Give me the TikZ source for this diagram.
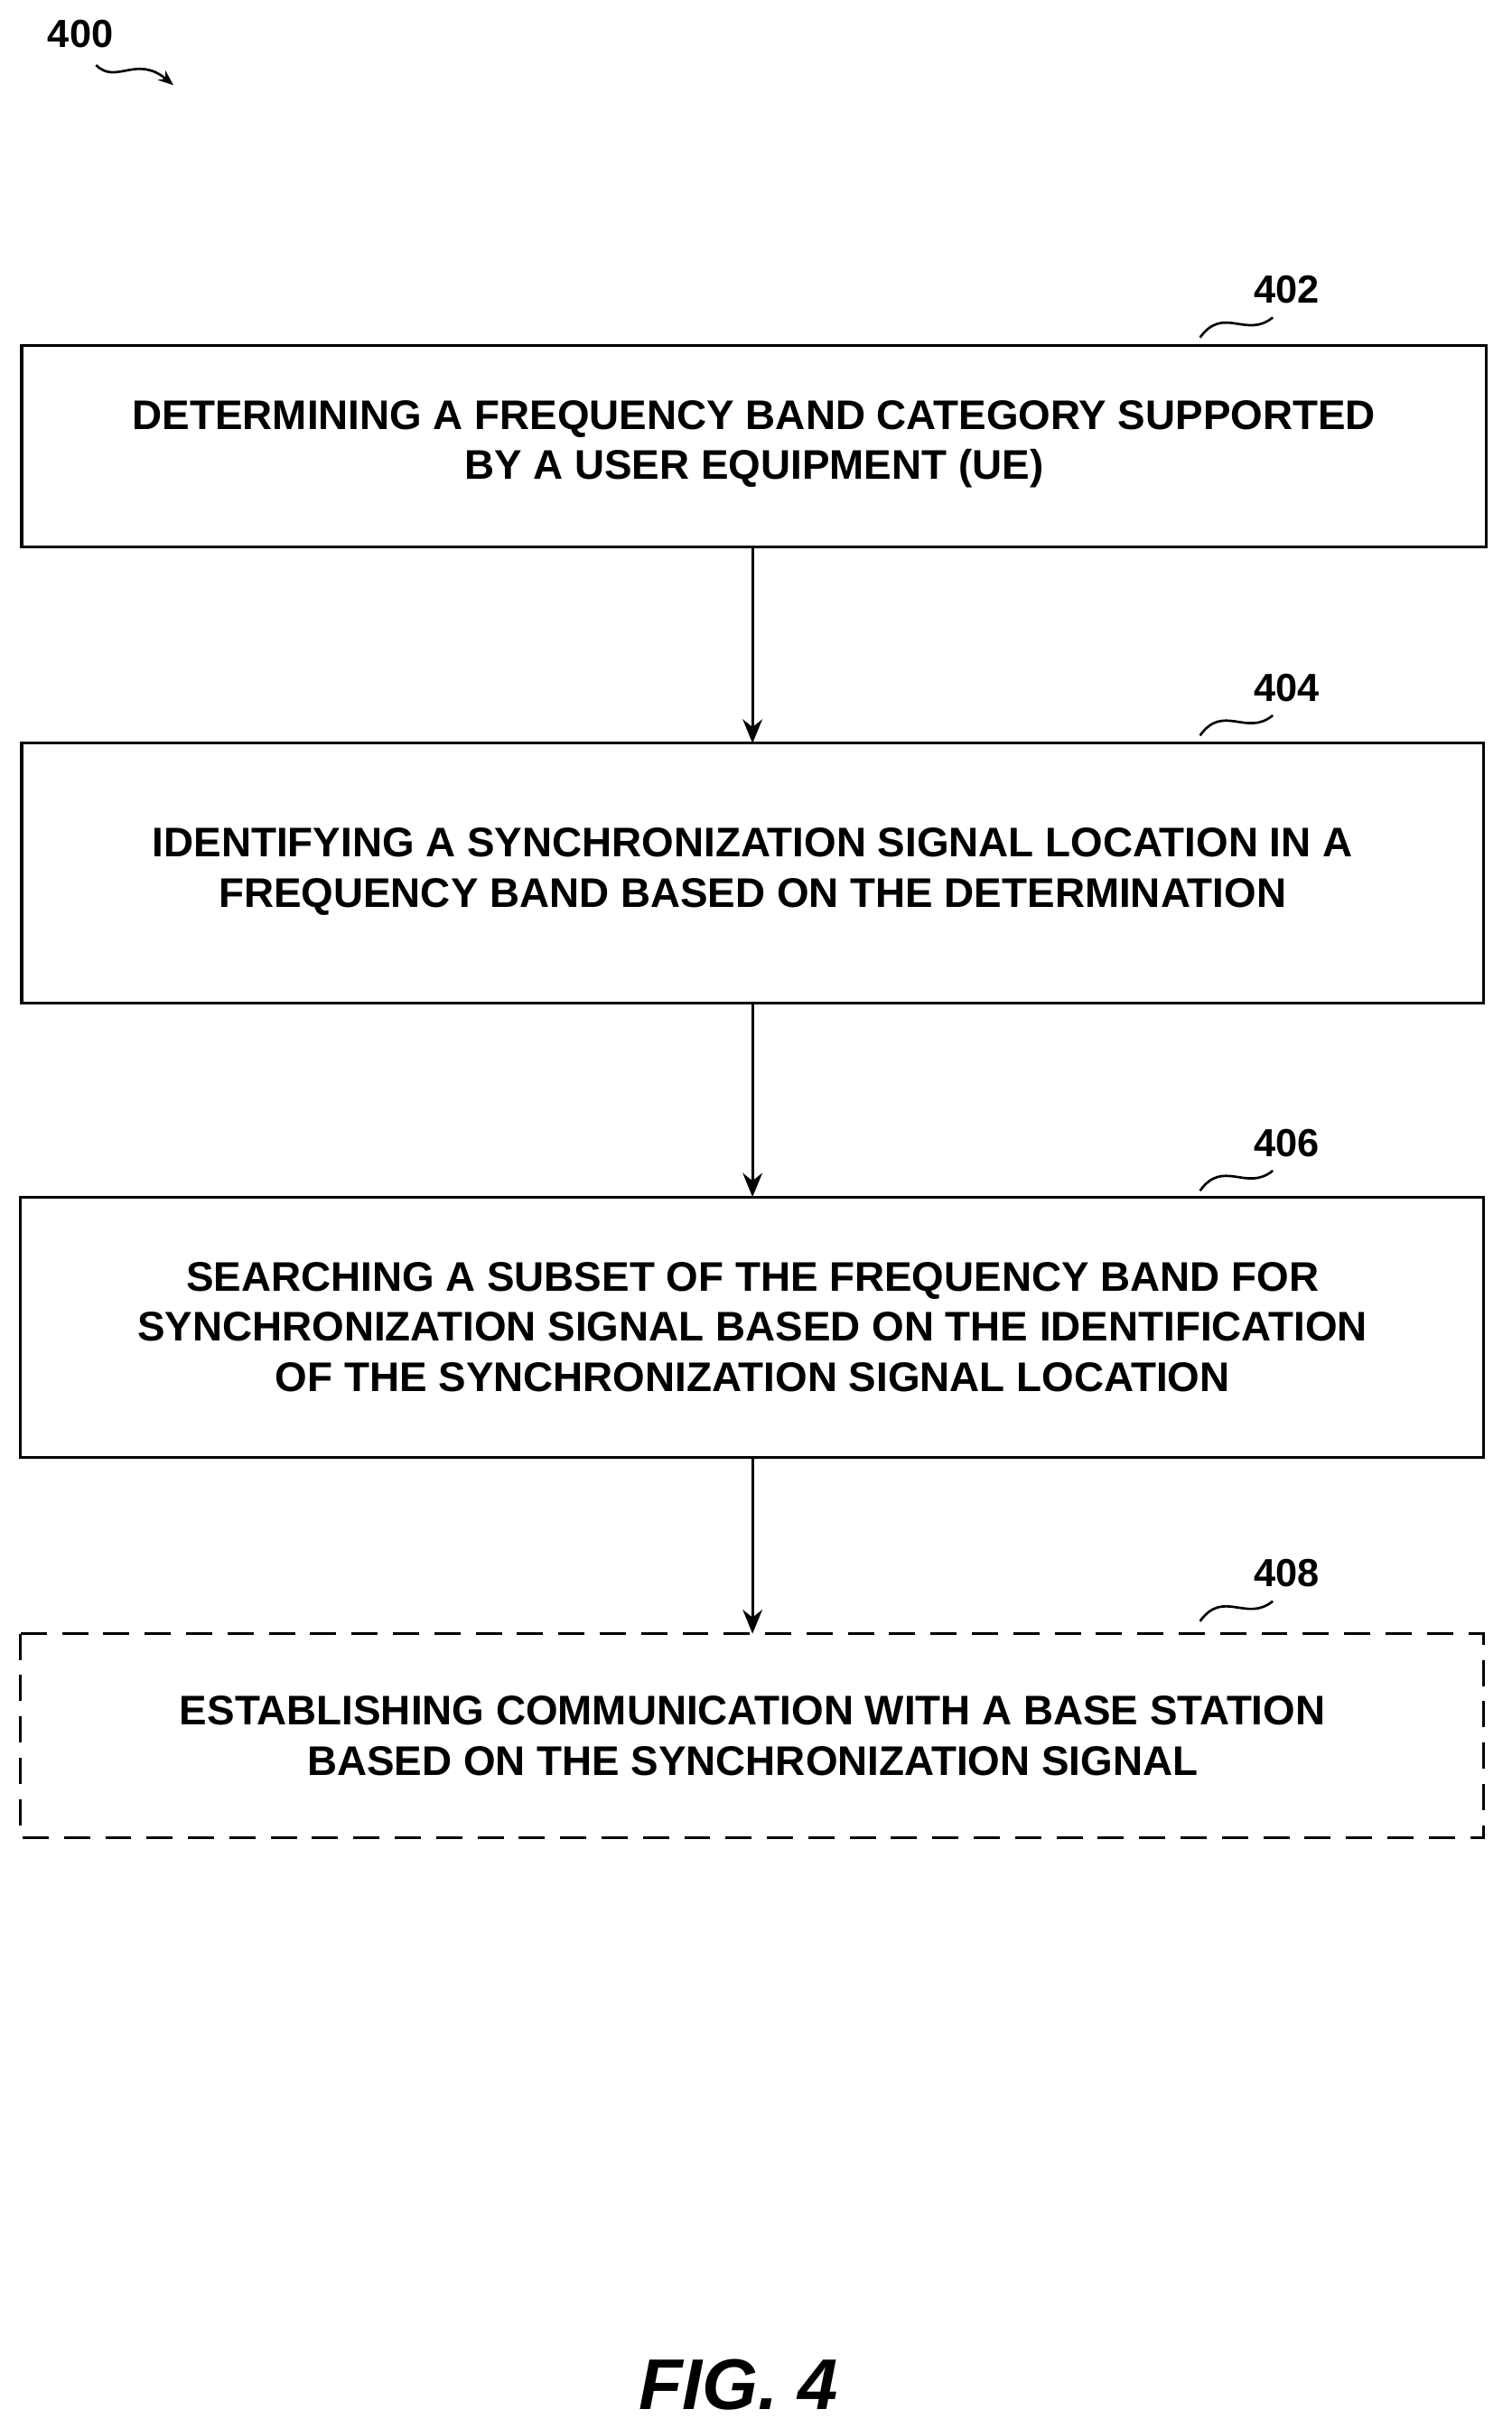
\documentclass[tikz,border=0pt]{standalone}
\usepackage{fontspec}
\setmainfont{Liberation Sans}
\usetikzlibrary{arrows.meta}
\begin{document}
\begin{tikzpicture}[x=0.05cm,y=-0.05cm,
  stepbox/.style={draw,line width=2.6pt,minimum width=0pt,anchor=north west},
  txt/.style={font=\bfseries\fontsize{38}{46}\selectfont,align=center},
  lbl/.style={font=\bfseries\fontsize{36}{40}\selectfont},
  arr/.style={line width=2.6pt,-{Stealth[length=22pt,width=18pt]}},
  sq/.style={line width=2.2pt}]
\useasboundingbox (0,0) rectangle (976,1568);
\draw[stepbox] (14,223) rectangle (960,353);
\draw[stepbox] (14,480) rectangle (958,648);
\draw[stepbox] (13,773) rectangle (958,941);
\draw[stepbox,dashed,dash pattern=on 24pt off 14pt] (13,1055) rectangle (958,1187);
\node[txt] (t1) at (487,287) {DETERMINING A FREQUENCY BAND CATEGORY SUPPORTED\\BY A USER EQUIPMENT (UE)};
\node[txt] (t2) at (486,563) {IDENTIFYING A SYNCHRONIZATION SIGNAL LOCATION IN A\\FREQUENCY BAND BASED ON THE DETERMINATION};
\node[txt] (t3) at (486,857) {SEARCHING A SUBSET OF THE FREQUENCY BAND FOR\\SYNCHRONIZATION SIGNAL BASED ON THE IDENTIFICATION\\OF THE SYNCHRONIZATION SIGNAL LOCATION};
\node[txt] (t4) at (486,1121) {ESTABLISHING COMMUNICATION WITH A BASE STATION\\BASED ON THE SYNCHRONIZATION SIGNAL};
\coordinate (a1) at (486,353); \coordinate (b1) at (486,480);
\coordinate (a2) at (486,648); \coordinate (b2) at (486,773);
\coordinate (a3) at (486,941); \coordinate (b3) at (486,1055);
\draw[arr] (a1) -- (b1);
\draw[arr] (a2) -- (b2);
\draw[arr] (a3) -- (b3);
\foreach \n/\y in {402/187,404/444,406/738,408/1016}{
  \node[lbl] (l\n) at (831,\y) {\n};
  \draw[sq] (775,\y+31) .. controls (790,\y+10) and (805,\y+32) .. (822,\y+18);
}
\node[lbl] (l400) at (52,22) {400};
\draw[sq,-{Stealth[length=14pt,width=11pt]}] (62,42) .. controls (75,55) and (88,35) .. (112,55);
\node[font=\bfseries\itshape\fontsize{66}{70}\selectfont] (fig) at (477,1540) {FIG. 4};
\end{tikzpicture}
\end{document}
